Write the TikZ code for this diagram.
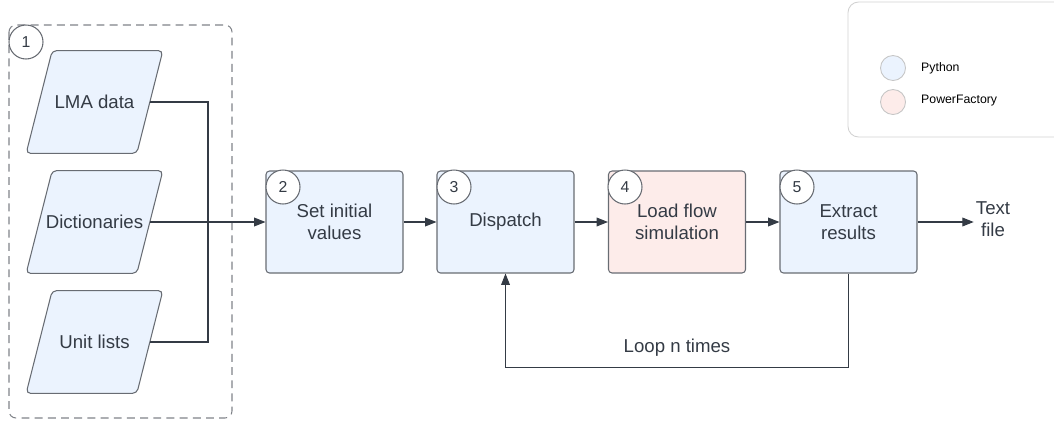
\documentclass[tikz,border=0pt]{standalone}
\usepackage{fontspec}
\setmainfont{Liberation Sans}
\usepackage{tikz}
\usetikzlibrary{arrows.meta,calc}
\usepackage{xcolor}

\definecolor{pyblue}{HTML}{EBF3FE}
\definecolor{pfpink}{HTML}{FDECEA}
\definecolor{edgegray}{HTML}{686C73}
\definecolor{inkgray}{HTML}{343B45}

\tikzset{
	box/.style={draw=edgegray, line width=0.6pt, rounded corners=2pt, fill=pyblue,
		minimum width=2.74cm, minimum height=2.04cm, align=center, text=inkgray,
		font=\fontsize{10.6}{12.5}\selectfont},
	intext/.style={minimum width=2.2cm, minimum height=2.04cm, inner sep=0pt,
		text=inkgray, font=\fontsize{10.6}{12.5}\selectfont},
	slanted/.style={draw=edgegray, line width=0.6pt, rounded corners=2.5pt, fill=pyblue},
	num/.style={draw=edgegray, line width=0.6pt, circle, fill=white, minimum size=0.68cm,
		inner sep=0pt, text=inkgray, font=\fontsize{9}{10}\selectfont},
	flow/.style={draw=inkgray, line width=0.6pt, -{Stealth[length=6.5pt,width=5pt,inset=0pt]}},
	wire/.style={draw=inkgray, line width=0.6pt},
	keydot/.style={circle, draw=gray!45, line width=0.5pt, minimum size=0.5cm, inner sep=0pt}
}
% parallelogram drawn round a text node
\newcommand{\slantbox}[1]{%
	\draw[slanted] ($(#1.south west)+(-13,0)$) -- ($(#1.north west)+(13,0)$)
		-- ($(#1.north east)+(13,0)$) -- ($(#1.south east)+(-13,0)$) -- cycle;}

\begin{document}
\begin{tikzpicture}[x=0.2mm, y=-0.2mm]
			\useasboundingbox (0,0) rectangle (1054,423);
			% input group
			\draw[edgegray!85, line width=0.6pt, dash pattern=on 4.5pt off 3pt, rounded corners=4pt] (9,25) rectangle (232,418);
			\node[intext] (lma) at (94.5,102) {};
			\node[intext] (dict) at (94.5,222) {};
			\node[intext] (units) at (94.5,342) {};
			\slantbox{lma}
			\slantbox{dict}
			\slantbox{units}
			\node[intext] at (lma) {LMA data};
			\node[intext] at (dict) {Dictionaries};
			\node[intext] at (units) {Unit lists};
			\node[num] (n1) at (26,42) {1};
			% processing chain
			\node[box] (init) at (334.5,222) {Set initial\\values};
			\node[box] (disp) at (505.5,222) {Dispatch};
			\node[box, fill=pfpink] (lf) at (677,222) {Load flow\\simulation};
			\node[box] (res) at (848.5,222) {Extract\\results};
			\node[align=center, text=inkgray, font=\fontsize{10.6}{12.5}\selectfont] (out) at (993,219) {Text\\file};
			\node[num] (n2) at (283,187) {2};
			\node[num] (n3) at (454,187) {3};
			\node[num] (n4) at (625,187) {4};
			\node[num] (n5) at (797,187) {5};
			% connectors
			\coordinate (bus) at (208,222);
			\draw[wire] (lma.east) -| (bus) |- (units.east);
			\draw[flow] (dict.east) -- (init.west);
			\draw[flow] (init) -- (disp);
			\draw[flow] (disp) -- (lf);
			\draw[flow] (lf) -- (res);
			\draw[flow] (res.east) -- ($(out.west)+(4,3)$);
			\draw[flow] (res.south) -- ++(0,94) -| (disp.south);
			\node[text=inkgray, font=\fontsize{10.6}{12.5}\selectfont] (loop) at (677,348) {Loop n times};
			% legend
			\draw[gray!35, line width=0.5pt, rounded corners=6pt] (848,2) rectangle (1066,137);
			\node[keydot, fill=pyblue] (kpy) at (893,68) {};
			\node[keydot, fill=pfpink] (kpf) at (893,102) {};
			\node[anchor=west, font=\fontsize{7}{8}\selectfont] (lpy) at (915,68) {Python};
			\node[anchor=west, font=\fontsize{7}{8}\selectfont] (lpf) at (915,101) {PowerFactory};
\end{tikzpicture}
\end{document}
